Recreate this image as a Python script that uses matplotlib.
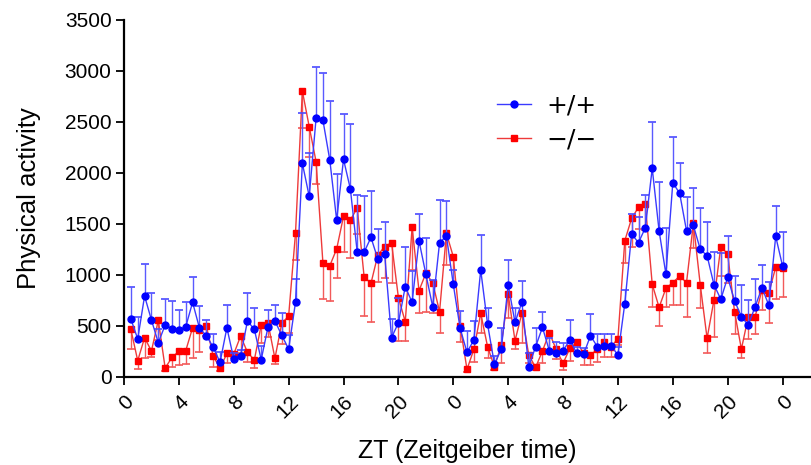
import matplotlib
matplotlib.use("Agg")
import matplotlib.pyplot as plt
import numpy as np

plt.rcParams["font.family"] = ["Liberation Sans", "DejaVu Sans"]

# ZT hours, one sample every 30 min over two days
zt = np.arange(1, 97) * 0.5
tick_pos = np.arange(0, 49, 4)
tick_labels = ["0", "4", "8", "12", "16", "20", "0", "4", "8", "12", "16", "20", "0"]

wt_mean = [566, 370, 791, 556, 333, 507, 471, 458, 490, 729, 477, 402, 291, 141, 480, 173,
           206, 546, 464, 167, 490, 546, 406, 271, 729, 2092, 1768, 2533, 2514, 2124, 1536, 2131,
           1840, 1219, 1219, 1366, 1154, 1200, 382, 529, 882, 729, 1333, 1007, 686, 1314, 1379, 906,
           474, 239, 360, 1046, 514, 122, 271, 899, 533, 729, 98, 294, 484, 255, 229, 255,
           360, 229, 219, 402, 294, 304, 304, 213, 716, 1399, 1314, 1461, 2043, 1431, 1004, 1902,
           1798, 1431, 1484, 1249, 1186, 902, 759, 974, 745, 588, 507, 686, 873, 700, 1376, 1085]
wt_sem = [316, 218, 314, 264, 134, 255, 271, 196, 245, 251, 216, 154, 125, 104, 220, 57,
          54, 271, 206, 134, 164, 157, 215, 138, 226, 496, 422, 507, 461, 576, 448, 449,
          637, 562, 556, 458, 294, 314, 184, 239, 393, 307, 262, 350, 262, 418, 346, 144,
          173, 212, 186, 343, 162, 81, 203, 245, 137, 209, 131, 180, 147, 121, 114, 78,
          196, 65, 62, 209, 122, 112, 112, 81, 134, 193, 249, 320, 457, 481, 451, 445,
          297, 334, 369, 402, 334, 317, 450, 408, 242, 314, 245, 269, 222, 228, 297, 331]

ko_mean = [464, 157, 382, 252, 553, 85, 190, 249, 255, 480, 458, 497, 203, 82, 229, 222,
           399, 239, 164, 507, 523, 180, 523, 595, 1406, 2801, 2451, 2108, 1112, 1088, 1252, 1572,
           1536, 1654, 980, 915, 1193, 1275, 1314, 775, 539, 1465, 843, 1013, 922, 637, 1406, 1177,
           497, 72, 268, 621, 294, 98, 311, 808, 353, 621, 213, 92, 252, 431, 268, 131,
           278, 337, 229, 213, 268, 337, 294, 373, 1333, 1553, 1661, 1690, 906, 680, 867, 922,
           987, 922, 1504, 902, 376, 752, 1275, 1203, 637, 271, 588, 588, 850, 824, 1072, 1063]
ko_sem = [196, 85, 202, 56, 193, 25, 92, 137, 130, 300, 213, 98, 105, 22, 92, 42,
          170, 92, 82, 180, 131, 56, 203, 170, 262, 366, 301, 218, 353, 343, 281, 347,
          375, 258, 382, 376, 262, 304, 399, 422, 186, 419, 222, 376, 298, 212, 311, 262,
          154, 22, 121, 196, 114, 28, 180, 235, 81, 294, 82, 22, 121, 169, 98, 65,
          124, 108, 114, 98, 121, 141, 98, 62, 221, 278, 211, 252, 220, 180, 181, 219,
          287, 334, 245, 226, 141, 360, 288, 288, 219, 91, 218, 170, 196, 301, 313, 279]

wt_mean, wt_sem = np.array(wt_mean), np.array(wt_sem)
ko_mean, ko_sem = np.array(ko_mean), np.array(ko_sem)

fig = plt.figure(figsize=(8.11, 4.65), dpi=100)
ax = fig.add_axes([124 / 811, 88.3 / 465, 686 / 811, 357 / 465])

# -/- : error bars hang below the points
ko_low = ko_mean - ko_sem
ax.vlines(zt, ko_low, ko_mean, color="#f25a5a", lw=1.0, zorder=2)
ax.plot(zt, ko_low, ls="none", marker="_", ms=6, mew=1.2, color="#f25a5a", zorder=2)
ax.plot(zt, ko_mean, color="#ee3a3a", lw=1.0, marker="s", ms=5, mfc="#ff0000",
        mec="#ff0000", label="\u2212/\u2212", zorder=3)

# +/+ : error bars point upward
wt_high = wt_mean + wt_sem
ax.vlines(zt, wt_mean, wt_high, color="#5a5aff", lw=1.0, zorder=4)
ax.plot(zt, wt_high, ls="none", marker="_", ms=6, mew=1.2, color="#4a4aff", zorder=4)
ax.plot(zt, wt_mean, color="#3a3aff", lw=1.0, marker="o", ms=5, mfc="#0000ff",
        mec="#0000ff", label="+/+", zorder=5)

ax.set_xlim(0, 50)
ax.set_ylim(0, 3500)
ax.set_yticks(np.arange(0, 3501, 500))
ax.set_xticks(tick_pos)
ax.set_xticklabels(tick_labels, rotation=45, ha="right", rotation_mode="anchor")

for s in ["top", "right"]:
    ax.spines[s].set_visible(False)
for s in ["left", "bottom"]:
    ax.spines[s].set_linewidth(1.6)
ax.tick_params(axis="both", length=6, width=1.3, labelsize=15, pad=3)
ax.tick_params(axis="x", pad=5)

ax.set_ylabel("Physical activity", fontsize=18.5, labelpad=17)
ax.set_xlabel("ZT (Zeitgeiber time)", fontsize=18, labelpad=12)

handles, labels = ax.get_legend_handles_labels()
ax.legend(handles[::-1], labels[::-1], loc="upper left", bbox_to_anchor=(485 / 811, 1 - 81 / 465),
          bbox_transform=fig.transFigure, frameon=False, handlelength=1.35,
          handletextpad=0.6, labelspacing=0.4, borderpad=0,
          prop={"family": "DejaVu Sans", "size": 18})

fig.savefig("out.png", dpi=100)
